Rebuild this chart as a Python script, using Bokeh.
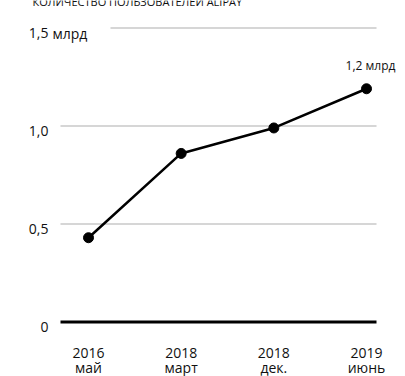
from bokeh.plotting import figure
from bokeh.models import Range1d, ColumnDataSource, Label
from bokeh.core.properties import value
from bokeh.embed import file_html
from bokeh.resources import INLINE

# ---- data ----
title_text = "КОЛИЧЕСТВО ПОЛЬЗОВАТЕЛЕЙ ALIPAY"
years = ["2016", "2018", "2018", "2019"]
months = ["май", "март", "дек.", "июнь"]
users_bn = [0.43, 0.86, 0.99, 1.19]
last_label = "1,2 млрд"
y_ticks = [0, 0.5, 1.0, 1.5]
y_tick_labels = ["0", "0,5", "1,0", "1,5"]
unit_label = "млрд"

W, H = 405, 376
FONT = "Open Sans"

# pixel geometry -> data conversion
X0, DX = 88.0, 92.67
Y0, DY = 321.5, 196.0
def sx(px):
    return (px - X0) / DX
def sy(py):
    return (Y0 - py) / DY

p = figure(width=W, height=H, output_backend="svg", toolbar_location=None,
           x_range=Range1d(sx(0), sx(W)), y_range=Range1d(sy(H), sy(0)),
           min_border=0, min_border_left=0, min_border_right=0,
           min_border_top=0, min_border_bottom=0)
p.axis.visible = False
p.grid.visible = False
p.outline_line_color = None
p.background_fill_color = "white"
p.border_fill_color = "white"

# gridlines
grid_y = [t for t in y_ticks if t > 0]
x0s = [sx(110) if t == max(y_ticks) else sx(60) for t in grid_y]
p.segment(x0=x0s, x1=[sx(376)] * len(grid_y), y0=grid_y, y1=grid_y,
          line_color="#c8c8c8", line_width=1.5)
# baseline
p.segment(x0=[sx(60)], x1=[sx(376)], y0=[0], y1=[0], line_color="black", line_width=3)

# y tick labels
p.text(x=[sx(48)] * len(y_ticks), y=y_ticks, text=y_tick_labels,
       text_align="right", text_baseline="middle", y_offset=5,
       text_font=value(FONT), text_font_size="14px", text_color="#111111")
p.text(x=[sx(52)], y=[max(y_ticks)], text=[unit_label],
       text_align="left", text_baseline="middle", y_offset=5,
       text_font=value(FONT), text_font_size="14px", text_color="#111111")

# line + markers
xs = list(range(len(users_bn)))
src = ColumnDataSource(dict(x=xs, y=users_bn, yr=years, mo=months))
p.line("x", "y", source=src, line_color="black", line_width=2.5)
p.scatter("x", "y", source=src, size=10, fill_color="black", line_color="black")

# x labels
p.text(x="x", y=sy(352), text="yr", source=src, text_align="center",
       text_baseline="middle", text_font=value(FONT), text_font_size="14px",
       text_color="#111111")
p.text(x="x", y=sy(367), text="mo", source=src, text_align="center",
       text_baseline="middle", text_font=value(FONT), text_font_size="14px",
       text_color="#111111")

# last value annotation
p.text(x=[xs[-1]], y=[users_bn[-1]], text=[last_label], x_offset=4, y_offset=-23,
       text_align="center", text_baseline="middle", text_font=value(FONT),
       text_font_size="12px", text_color="#111111")

# title at top (partly cropped in reference)
p.add_layout(Label(x=sx(32), y=sy(1), text=title_text, text_align="left",
                   text_baseline="alphabetic", text_font=FONT,
                   text_font_size="11px", text_color="#111111"))

open("out.html", "w").write(file_html(p, INLINE))
